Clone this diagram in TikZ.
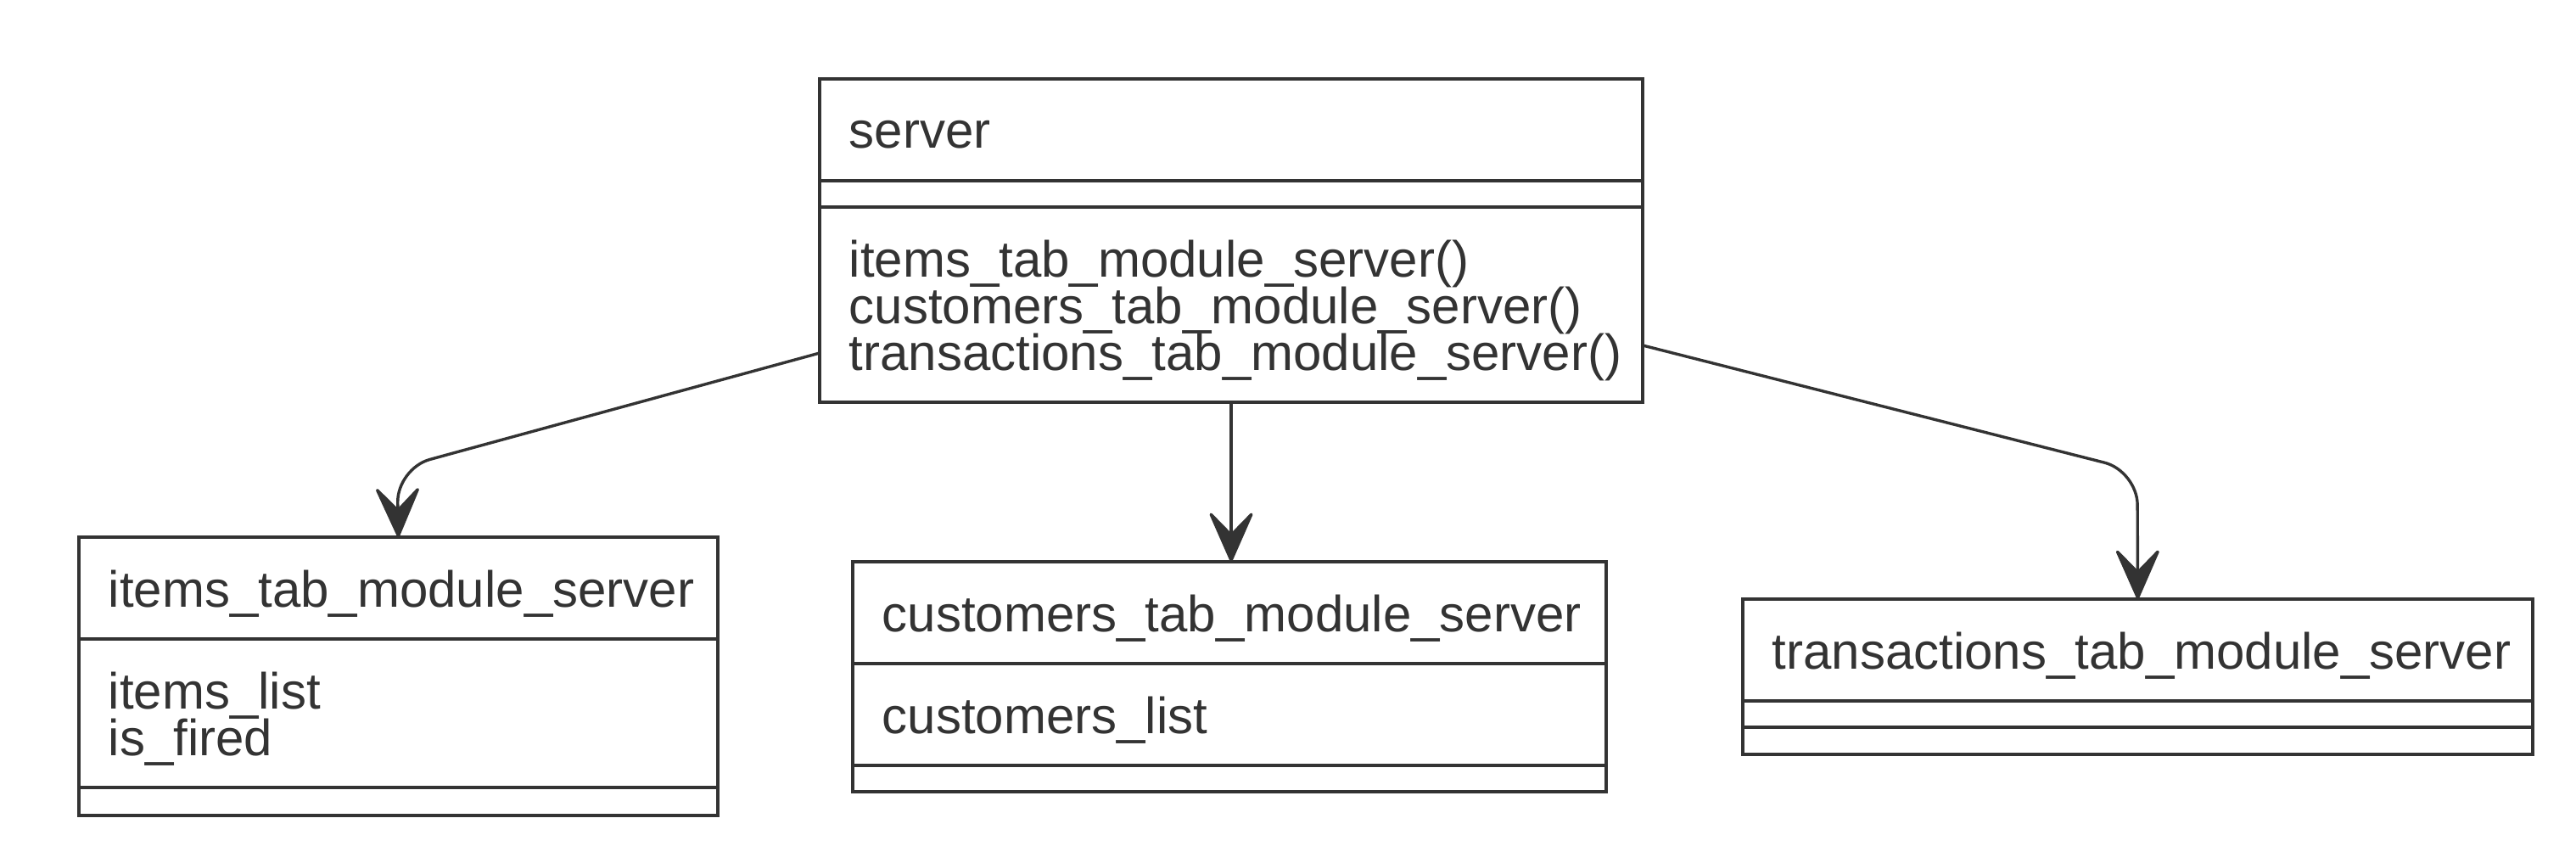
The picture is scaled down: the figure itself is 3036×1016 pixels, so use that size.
\documentclass[tikz,border=0pt]{standalone}
\usepackage{fontspec}
\setmainfont{Liberation Sans}
\usepackage{xcolor}
\usepackage{tikz}
\usetikzlibrary{arrows.meta}

\definecolor{umlgray}{HTML}{333333}
\newcommand{\umlfont}{\fontsize{15}{13.75}\selectfont}

\tikzset{
  classbox/.style={draw=umlgray, line width=0.95pt, inner sep=0pt, outer sep=0pt},
  classtext/.style={anchor=base west, inner sep=0pt, text=umlgray, font=\umlfont},
  divider/.style={draw=umlgray, line width=0.95pt},
  dep/.style={draw=umlgray, line width=0.85pt, rounded corners=10pt,
    -{Stealth[length=16.5pt,width=14.5pt,inset=7.4pt,round]}},
}

\begin{document}
\begin{tikzpicture}[x=0.25pt, y=-0.25pt]
			\useasboundingbox (0,0) rectangle (3036,1016);
			% Klassen
			\node[classbox, minimum width=242.5pt, minimum height=95.25pt] (server) at (1451,283.5) {};
			\node[classbox, minimum width=188.25pt, minimum height=82pt] (items) at (469.5,797) {};
			\node[classbox, minimum width=222pt, minimum height=67.75pt] (customers) at (1449,797.5) {};
			\node[classbox, minimum width=232.75pt, minimum height=45.75pt] (transactions) at (2519.5,797.5) {};
			% Trennlinien
			\draw[divider] ([yshift=-30pt]server.north west) -- ([yshift=-30pt]server.north east);
			\draw[divider] ([yshift=-37.75pt]server.north west) -- ([yshift=-37.75pt]server.north east);
			\draw[divider] ([yshift=-30pt]items.north west) -- ([yshift=-30pt]items.north east);
			\draw[divider] ([yshift=-73.75pt]items.north west) -- ([yshift=-73.75pt]items.north east);
			\draw[divider] ([yshift=-30pt]customers.north west) -- ([yshift=-30pt]customers.north east);
			\draw[divider] ([yshift=-60pt]customers.north west) -- ([yshift=-60pt]customers.north east);
			\draw[divider] ([yshift=-30pt]transactions.north west) -- ([yshift=-30pt]transactions.north east);
			\draw[divider] ([yshift=-37.75pt]transactions.north west) -- ([yshift=-37.75pt]transactions.north east);
			% Texte
			\node[classtext] (server-name) at ([shift={(8.5pt,-20.5pt)}]server.north west) {server};
			\node[classtext] (server-m1) at ([shift={(8.5pt,-58.25pt)}]server.north west) {items\_tab\_module\_server()};
			\node[classtext] (server-m2) at ([shift={(8.5pt,-72pt)}]server.north west) {customers\_tab\_module\_server()};
			\node[classtext] (server-m3) at ([shift={(8.5pt,-85.75pt)}]server.north west) {transactions\_tab\_module\_server()};
			\node[classtext] (items-name) at ([shift={(8.5pt,-20.5pt)}]items.north west) {items\_tab\_module\_server};
			\node[classtext] (items-a1) at ([shift={(8.5pt,-50.5pt)}]items.north west) {items\_list};
			\node[classtext] (items-a2) at ([shift={(8.5pt,-64.25pt)}]items.north west) {is\_fired};
			\node[classtext] (customers-name) at ([shift={(8.5pt,-20.5pt)}]customers.north west) {customers\_tab\_module\_server};
			\node[classtext] (customers-a1) at ([shift={(8.5pt,-50.5pt)}]customers.north west) {customers\_list};
			\node[classtext] (transactions-name) at ([shift={(8.5pt,-20.5pt)}]transactions.north west) {transactions\_tab\_module\_server};
			% Pfeile
			\coordinate (bendL) at (468,552);
			\coordinate (bendR) at (2519,555);
			\draw[dep] ([yshift=14.5pt]server.south west) -- (bendL) -- (items.north);
			\draw[dep] (server.south) -- (server.south |- customers.north);
			\draw[dep] ([yshift=16.75pt]server.south east) -- (bendR) -- (transactions.north);
		\end{tikzpicture}
\end{document}
